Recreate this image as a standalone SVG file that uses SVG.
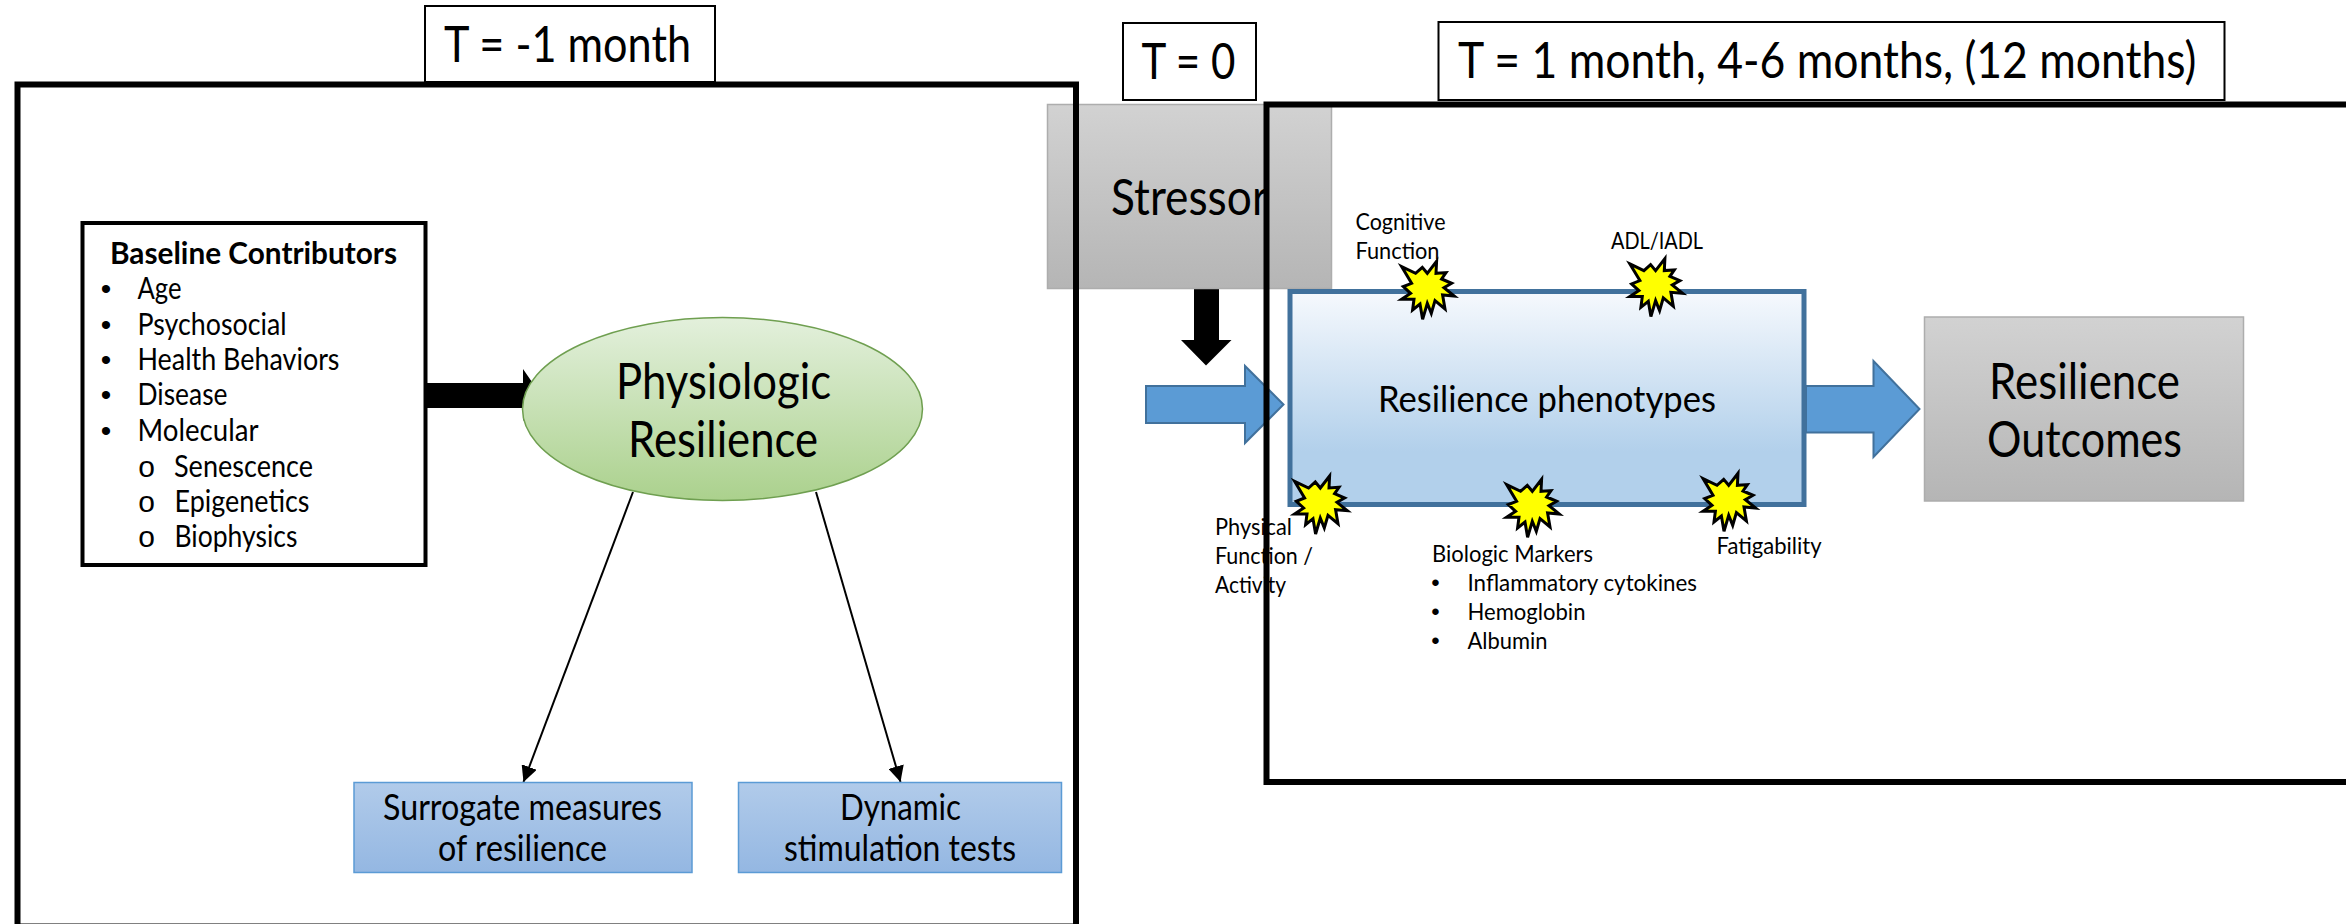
<svg xmlns="http://www.w3.org/2000/svg" xmlns:xlink="http://www.w3.org/1999/xlink" width="2346" height="924" viewBox="0 0 2346 924">
<style>
text{font-family:"Lato","Carlito","Open Sans",sans-serif;fill:#000}
.xl{font-size:50px}.lg{font-size:36px}.md{font-size:30px}.sm{font-size:24px}
.b{font-weight:700}
.mid{text-anchor:middle}
.frame{fill:none;stroke:#000;stroke-width:6}
.tag{fill:#fff;stroke:#000;stroke-width:2}
.thin{fill:none;stroke:#000;stroke-width:2}
.block{fill:#5b9bd5;stroke:#41719c;stroke-width:2}
.star{fill:#ff0;stroke:#000;stroke-width:3}
.bul{font-family:"Liberation Sans",sans-serif}
</style>
<defs>
<linearGradient id="gGreen" x1="0" y1="0" x2="0" y2="1"><stop offset="0" stop-color="#e3f0dc"/><stop offset="1" stop-color="#abd18d"/></linearGradient>
<linearGradient id="gGrey" x1="0" y1="0" x2="0" y2="1"><stop offset="0" stop-color="#d2d2d2"/><stop offset="1" stop-color="#b5b5b5"/></linearGradient>
<linearGradient id="gBlue" x1="0" y1="0" x2="0" y2="1"><stop offset="0" stop-color="#b1cbea"/><stop offset="1" stop-color="#94b7e2"/></linearGradient>
<linearGradient id="gPheno" x1="0" y1="0" x2="0" y2="1"><stop offset="0" stop-color="#f6f9fd"/><stop offset="0.75" stop-color="#b2d0eb"/><stop offset="1" stop-color="#b2d0eb"/></linearGradient>
<marker id="ah" markerUnits="userSpaceOnUse" markerWidth="16" markerHeight="16" refX="16" refY="8" orient="auto"><path d="M0 0L16 8L0 16Z" fill="#000"/></marker>
<polygon id="burst" class="star" points="-25.7,-21.7 -11.7,-15 -5,-21 0,-15 9.3,-27 8.7,-15 18.7,-15.7 14.3,-9.3 24.3,-5 16.7,-0.7 27,7.7 15.3,6.7 17.7,20.7 7.7,12.3 4,25 0,15 -4.7,31 -7.3,15.7 -14.7,21.7 -13.3,11 -25.7,11 -16.7,5 -24,-1.7 -15.7,-5"/>
</defs>

<g id="connectors">
<path d="M424 383H523V369L541 395L523 421V408H424Z" fill="#000"/>
<line class="thin" x1="633" y1="492" x2="523.500" y2="782" marker-end="url(#ah)"/>
<line class="thin" x1="816" y1="492" x2="900.500" y2="782" marker-end="url(#ah)"/>
<path d="M1194 289H1219V340H1231.500L1206 365.500L1181 340H1194Z" fill="#000"/>
<path class="block" d="M1146 386H1245V366L1283.500 404.500L1245 443V423H1146Z"/>
<path class="block" d="M1806 386H1873.500V361L1919.500 409L1873.500 457V432.500H1806Z"/>
</g>

<g id="stressor">
<rect x="1047.500" y="104.500" width="284" height="184" fill="url(#gGrey)" stroke="#adadad" stroke-width="1.500"/>
<text class="xl" x="1111" y="214.500" textLength="157" lengthAdjust="spacingAndGlyphs">Stressor</text>
</g>

<g id="baseline-contributors">
<rect x="82.500" y="223" width="343" height="342" fill="#fff" stroke="#000" stroke-width="4"/>
<text class="md b" x="110" y="263.500" textLength="287" lengthAdjust="spacingAndGlyphs">Baseline Contributors</text>
<text class="md bul mid" x="106" y="299">•</text><text class="md" x="137.500" y="299" textLength="44" lengthAdjust="spacingAndGlyphs">Age</text>
<text class="md bul mid" x="106" y="334.500">•</text><text class="md" x="137.500" y="334.500" textLength="149" lengthAdjust="spacingAndGlyphs">Psychosocial</text>
<text class="md bul mid" x="106" y="369.500">•</text><text class="md" x="137.500" y="369.500" textLength="202" lengthAdjust="spacingAndGlyphs">Health Behaviors</text>
<text class="md bul mid" x="106" y="405">•</text><text class="md" x="137.500" y="405" textLength="90" lengthAdjust="spacingAndGlyphs">Disease</text>
<text class="md bul mid" x="106" y="440.500">•</text><text class="md" x="137.500" y="440.500" textLength="121" lengthAdjust="spacingAndGlyphs">Molecular</text>
<text class="md bul mid" x="146.500" y="476.500">o</text><text class="md" x="174" y="476.500" textLength="139" lengthAdjust="spacingAndGlyphs">Senescence</text>
<text class="md bul mid" x="146.500" y="511.500">o</text><text class="md" x="174.500" y="511.500" textLength="135" lengthAdjust="spacingAndGlyphs">Epigenetics</text>
<text class="md bul mid" x="146.500" y="546.500">o</text><text class="md" x="174.500" y="546.500" textLength="123" lengthAdjust="spacingAndGlyphs">Biophysics</text>
</g>

<g id="physiologic-resilience">
<ellipse cx="722.500" cy="409" rx="200" ry="91.500" fill="url(#gGreen)" stroke="#6f9f50" stroke-width="1.500"/>
<text class="xl" x="616" y="398.500" textLength="215" lengthAdjust="spacingAndGlyphs">Physiologic</text>
<text class="xl" x="628" y="456.500" textLength="190" lengthAdjust="spacingAndGlyphs">Resilience</text>
</g>

<g id="surrogate-measures">
<rect x="354" y="782.500" width="338" height="90" fill="url(#gBlue)" stroke="#5b9bd5" stroke-width="1.500"/>
<text class="lg" x="383" y="820" textLength="279" lengthAdjust="spacingAndGlyphs">Surrogate measures</text>
<text class="lg" x="438" y="860.500" textLength="169" lengthAdjust="spacingAndGlyphs">of resilience</text>
</g>

<g id="dynamic-stimulation">
<rect x="738.500" y="782.500" width="323" height="90" fill="url(#gBlue)" stroke="#5b9bd5" stroke-width="1.500"/>
<text class="lg" x="840" y="820" textLength="121" lengthAdjust="spacingAndGlyphs">Dynamic</text>
<text class="lg" x="784" y="860.500" textLength="232" lengthAdjust="spacingAndGlyphs">stimulation tests</text>
</g>

<g id="resilience-phenotypes">
<rect x="1290" y="291.500" width="514" height="213" fill="url(#gPheno)" stroke="#41719c" stroke-width="5"/>
<text class="lg" x="1378" y="411.500" textLength="338" lengthAdjust="spacingAndGlyphs">Resilience phenotypes</text>
</g>

<g id="resilience-outcomes">
<rect x="1924.500" y="317" width="319" height="184" fill="url(#gGrey)" stroke="#adadad" stroke-width="1.500"/>
<text class="xl" x="1989" y="398.500" textLength="191" lengthAdjust="spacingAndGlyphs">Resilience</text>
<text class="xl" x="1987" y="456.500" textLength="195" lengthAdjust="spacingAndGlyphs">Outcomes</text>
</g>

<g id="marker-cognitive">
<use xlink:href="#burst" href="#burst" x="1427.300" y="288.300"/>
<text class="sm" x="1355.500" y="230" textLength="90" lengthAdjust="spacingAndGlyphs">Cognitive</text>
<text class="sm" x="1355.500" y="259" textLength="84" lengthAdjust="spacingAndGlyphs">Function</text>
</g>
<g id="marker-adl">
<use xlink:href="#burst" href="#burst" x="1655.600" y="285.600"/>
<text class="sm" x="1611" y="248.500" textLength="92" lengthAdjust="spacingAndGlyphs">ADL/IADL</text>
</g>
<g id="marker-physical">
<use xlink:href="#burst" href="#burst" x="1320.300" y="503"/>
<text class="sm" x="1215" y="534.500" textLength="77" lengthAdjust="spacingAndGlyphs">Physical</text>
<text class="sm" x="1215" y="564" textLength="98" lengthAdjust="spacingAndGlyphs">Function /</text>
<text class="sm" x="1215" y="593" textLength="71" lengthAdjust="spacingAndGlyphs">Activity</text>
</g>
<g id="marker-biologic">
<use xlink:href="#burst" href="#burst" x="1532.300" y="506.300"/>
<text class="sm" x="1432" y="562" textLength="161" lengthAdjust="spacingAndGlyphs">Biologic Markers</text>
<text class="sm bul mid" x="1435.500" y="591">•</text><text class="sm" x="1467.500" y="591" textLength="229.500" lengthAdjust="spacingAndGlyphs">Inflammatory cytokines</text>
<text class="sm bul mid" x="1435.500" y="620">•</text><text class="sm" x="1467.500" y="620" textLength="118" lengthAdjust="spacingAndGlyphs">Hemoglobin</text>
<text class="sm bul mid" x="1435.500" y="649">•</text><text class="sm" x="1467.500" y="649" textLength="80" lengthAdjust="spacingAndGlyphs">Albumin</text>
</g>
<g id="marker-fatigability">
<use xlink:href="#burst" href="#burst" x="1728.700" y="500.300"/>
<text class="sm" x="1716.500" y="554" textLength="105" lengthAdjust="spacingAndGlyphs">Fatigability</text>
</g>

<g id="frame-before"><rect class="frame" x="17.500" y="84.500" width="1058.500" height="842"/></g>
<g id="frame-after"><rect class="frame" x="1266.500" y="104.500" width="1200" height="677.500"/></g>

<g id="time-minus-1">
<rect class="tag" x="425" y="6" width="290" height="76"/>
<text class="xl" x="444" y="61.500" textLength="247" lengthAdjust="spacingAndGlyphs">T = -1 month</text>
</g>
<g id="time-0">
<rect class="tag" x="1123" y="23" width="133" height="77"/>
<text class="xl" x="1141.500" y="78.500" textLength="94" lengthAdjust="spacingAndGlyphs">T = 0</text>
</g>
<g id="time-after">
<rect class="tag" x="1438.500" y="22" width="786" height="78"/>
<text class="xl" x="1458" y="78" textLength="738.500" lengthAdjust="spacingAndGlyphs">T = 1 month, 4-6 months, (12 months)</text>
</g>
</svg>
